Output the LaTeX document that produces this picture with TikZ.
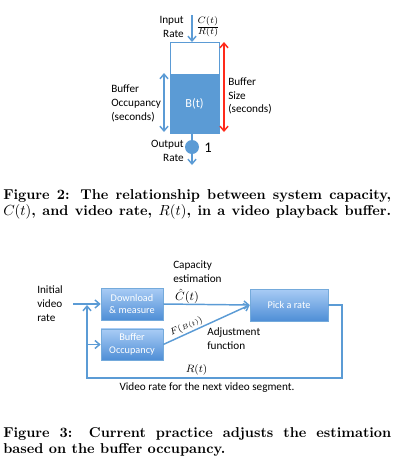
\documentclass[tikz,border=0pt]{standalone}
\usepackage{fontspec}
\newfontfamily\calib{Carlito}
\usetikzlibrary{positioning,arrows.meta}
\definecolor{officeblue}{HTML}{5B9BD5}
\definecolor{boxtop}{HTML}{A9CCF5}
\definecolor{boxbot}{HTML}{4E8ED6}
\definecolor{sizered}{HTML}{FF2A1A}
\tikzset{
  lbl/.style={font=\calib\fontsize{8.4}{10.4}\selectfont, align=left, inner sep=0pt},
  flow/.style={officeblue, line width=1.1pt, -{Straight Barb[length=3.5pt,width=6pt]}},
  procbox/.style={draw=officeblue!85!white, line width=0.4pt, top color=boxtop, bottom color=boxbot,
    text=white, font=\calib\fontsize{7.7}{9.4}\selectfont, align=center, inner sep=0pt},
  capline/.style={anchor=base west, inner sep=0pt, font=\bfseries\fontsize{10.7}{12}\selectfont}
}
\begin{document}
\begin{tikzpicture}[x=0.75pt, y=-0.75pt]
        \path[use as bounding box] (0,0) rectangle (400,472);
        % ===== Figure 2: playback buffer =====
        \draw[officeblue, line width=0.6pt] (170,42) rectangle (219,133);
        \fill[officeblue] (170,74) rectangle (219,133);
        \node[font=\calib\fontsize{9.2}{11}\selectfont, text=white, inner sep=0pt] (bt) at (194.5,104) {B(t)};

        \coordinate (intop) at (192,15);
        \coordinate (inbot) at (192,42);
        \draw[flow] (intop) -- (inbot);
        \node[lbl, align=right, anchor=east] (inrate) at (184,27) {Input\\Rate};
        \node[inner sep=0pt, font=\fontsize{9.5}{11}\selectfont] (frac) at (208,27) {$\frac{C(t)}{R(t)}$};

        \coordinate (sztop) at (224,42);
        \coordinate (szbot) at (224,132);
        \draw[sizered, line width=1.1pt, {Straight Barb[length=3.5pt,width=6pt]}-{Straight Barb[length=3.5pt,width=6pt]}] (sztop) -- (szbot);
        \node[lbl, anchor=west] (bsize) at (228,96) {Buffer\\Size\\(seconds)};

        \coordinate (octop) at (164,73);
        \coordinate (ocbot) at (164,132);
        \draw[officeblue, line width=1.1pt, {Straight Barb[length=3.5pt,width=6pt]}-{Straight Barb[length=3.5pt,width=6pt]}] (octop) -- (ocbot);
        \node[lbl, anchor=west] (bocc) at (111,103.5) {Buffer\\Occupancy\\(seconds)};

        \coordinate (outtop) at (192,133);
        \coordinate (outbot) at (192,165);
        \draw[flow] (outtop) -- (outbot);
        \fill[officeblue] (192,147) circle (7);
        \node[inner sep=0pt, font=\calib\fontsize{11}{13}\selectfont] (one) at (208,148) {1};
        \node[lbl, align=right, anchor=east] (outrate) at (184,151) {Output\\Rate};

        \node[capline] (cap2a) at (3,199) {\makebox[291pt][s]{Figure 2: The relationship between system capacity,}};
        \node[capline] (cap2b) at (3,215) {\makebox[291pt][s]{$C(t)$, and video rate, $R(t)$, in a video playback buffer.}};

        % ===== Figure 3: rate selection loop =====
        \node[procbox, minimum width=46.5pt, minimum height=24pt] (dl) at (132,304) {Download\\\& measure};
        \node[procbox, minimum width=46.5pt, minimum height=23.5pt] (bo) at (132,344.5) {Buffer\\Occupancy};
        \node[procbox, minimum width=58.5pt, minimum height=24pt] (pick) at (289,305) {Pick a rate};

        \node[lbl, anchor=west] (init) at (37,303.5) {Initial\\video\\rate};
        \coordinate (initend) at (73,304);
        \draw[flow] (initend) -- (dl.west);

        \draw[flow] (dl.east) -- (pick.west);
        \draw[flow] (bo.east) -- node[sloped, above, pos=0.3, inner sep=1pt, text=black, font=\fontsize{7.5}{9}\selectfont] (fb) {$F({\scriptstyle B(t)})$} (pick.west);

        \coordinate (fbr) at (342,378);
        \coordinate (fbl) at (87,378);
        \coordinate (join) at (87,305);
        \draw[flow] (pick.east) -| (fbr) -- node[above, pos=0.57, inner sep=1.5pt, text=black, font=\fontsize{8}{9}\selectfont] (rt) {$R(t)$} (fbl) -- (join);
        \draw[flow] (fbl |- bo.west) -- (bo.west);

        \node[lbl, anchor=west] (capest) at (173,271.5) {Capacity\\estimation};
        \node[inner sep=0pt, font=\fontsize{8.6}{10}\selectfont] (chat) at (187,296) {$\hat{C}(t)$};
        \node[lbl, anchor=west] (adjfn) at (207,339) {Adjustment\\function};
        \node[lbl, anchor=north] (vnext) at (207,382) {Video rate for the next video segment.};

        \node[capline] (cap3a) at (3,437) {\makebox[291pt][s]{Figure 3: Current practice adjusts the estimation}};
        \node[capline] (cap3b) at (3,453) {based on the buffer occupancy.};
\end{tikzpicture}
\end{document}
